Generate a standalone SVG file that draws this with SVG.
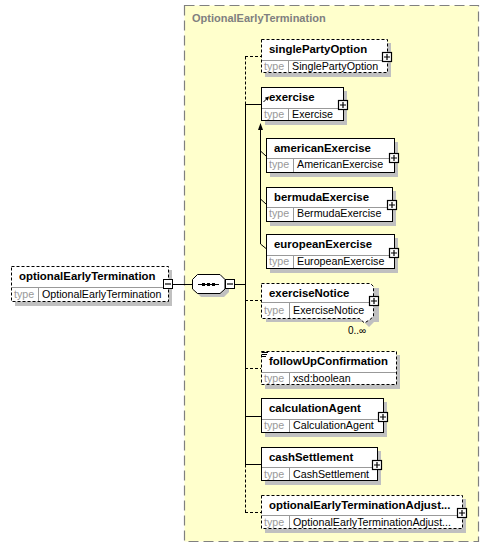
<svg xmlns="http://www.w3.org/2000/svg" xmlns:xlink="http://www.w3.org/1999/xlink" width="490" height="551" viewBox="0 0 490 551">
<style>
.bg{fill:#ffffcc;stroke:#808080;stroke-width:1.2;stroke-dasharray:10,5}
.title{font:bold 11px "Liberation Sans",Arial,sans-serif;fill:#808080}
.box{fill:#fff;stroke:#000;stroke-width:1}
.opt{stroke-dasharray:3,2}
.sh{fill:#c0c0c0}
.div{stroke:#999;stroke-width:1;fill:none}
.nm{font:bold 11.4px "Liberation Sans",Arial,sans-serif;fill:#000}
.tl{font:10.7px "Liberation Sans",Arial,sans-serif;fill:#999}
.tv{font:10.7px "Liberation Sans",Arial,sans-serif;fill:#000}
.ln{stroke:#000;stroke-width:1;fill:none}
.dl{stroke:#000;stroke-width:1;fill:none;stroke-dasharray:3,2}
.occ{font:10px "Liberation Sans",Arial,sans-serif;fill:#000}
</style>
<defs>
<g id="plus"><rect x="0.5" y="0.5" width="9" height="9" fill="#fff" stroke="#000" stroke-width="1.2"/><path d="M2,5H8M5,2V8" stroke="#000" stroke-width="1.2"/></g>
<g id="minus"><rect x="0.5" y="0.5" width="9" height="9" fill="#fff" stroke="#000" stroke-width="1"/><path d="M2,5H8" stroke="#000" stroke-width="1.2"/></g>
</defs>
<g id="complexType">
<rect class="bg" x="184.5" y="5.5" width="294" height="536"/>
<text class="title" x="192" y="22">OptionalEarlyTermination</text>
</g>
<g id="connectors">
<path class="ln" d="M173,284.5H192M234,284.5H245"/>
<path class="dl" d="M245.5,56.5V104.5M245.5,464.5V512.5"/>
<path class="ln" d="M245.5,104.5V464.5"/>
<path class="dl" d="M245,56.5H261M245,300.5H261M245,368.5H261M245,512.5H261"/>
<path class="ln" d="M245,104.5H261M245,416.5H261M245,464.5H261"/>
<path class="ln" d="M260.5,129V244M260.5,151L266,156M260.5,199L266,204M260.5,244L266,248.5"/>
<path d="M260.5,123L258,130H263Z" fill="#000"/>
</g>
<g id="sequence">
<path class="sh" d="M201,278H224L229,283V292L224,297H201L196,292V283Z"/>
<path class="box" d="M197.5,274.5H220L225,279.5V289L220,293.5H197.5L192.5,289V279.5Z"/>
<path class="ln" d="M198,284.5H219"/>
<rect x="202" y="283" width="3" height="3" fill="#000"/>
<rect x="207" y="283" width="3" height="3" fill="#000"/>
<rect x="212" y="283" width="3" height="3" fill="#000"/>
<use href="#minus" x="225" y="279"/>
</g>
<g id="optionalEarlyTermination">
<rect class="sh" x="15" y="270" width="157" height="36"/>
<rect class="box opt" x="11.5" y="266.5" width="157" height="35"/>
<path class="div" d="M12,287.5H168M38.5,288V301"/>
<text class="nm" x="19" y="280">optionalEarlyTermination</text>
<text class="tl" x="14" y="298">type</text>
<text class="tv" x="42" y="298">OptionalEarlyTermination</text>
<use href="#minus" x="163" y="279"/>
</g>
<g id="singlePartyOption">
<rect class="sh" x="265" y="43" width="126" height="34"/>
<rect class="box opt" x="261.5" y="39.5" width="126" height="33"/>
<path class="div" d="M262,60.5H387M288.5,61V72"/>
<text class="nm" x="269" y="52.5">singlePartyOption</text>
<text class="tl" x="264" y="70">type</text>
<text class="tv" x="292" y="70">SinglePartyOption</text>
<use href="#plus" x="382" y="52"/>
</g>
<g id="exercise">
<rect class="sh" x="265" y="91" width="82" height="34"/>
<rect class="box" x="261.5" y="87.5" width="82" height="33"/>
<path class="div" d="M262,108.5H343M288.5,109V120"/>
<text class="nm" x="269" y="100.5">exercise</text>
<text class="tl" x="264" y="118">type</text>
<text class="tv" x="292" y="118">Exercise</text>
<path class="ln" d="M263.5,102L267.5,98"/>
<path d="M269,96.5L264.8,97.8L267.7,100.7Z" fill="#000"/>
<use href="#plus" x="338" y="100"/>
</g>
<g id="americanExercise">
<rect class="sh" x="270" y="142" width="128" height="35"/>
<rect class="box" x="266.5" y="138.5" width="128" height="34"/>
<path class="div" d="M267,158.5H394M293.5,159V172"/>
<text class="nm" x="274" y="151.5">americanExercise</text>
<text class="tl" x="269" y="168">type</text>
<text class="tv" x="297" y="168">AmericanExercise</text>
<use href="#plus" x="389" y="153"/>
</g>
<g id="bermudaExercise">
<rect class="sh" x="270" y="191" width="126" height="35"/>
<rect class="box" x="266.5" y="187.5" width="126" height="34"/>
<path class="div" d="M267,207.5H392M293.5,208V221"/>
<text class="nm" x="274" y="200.5">bermudaExercise</text>
<text class="tl" x="269" y="217">type</text>
<text class="tv" x="297" y="217">BermudaExercise</text>
<use href="#plus" x="387" y="200"/>
</g>
<g id="europeanExercise">
<rect class="sh" x="270" y="238" width="128" height="35"/>
<rect class="box" x="266.5" y="234.5" width="128" height="34"/>
<path class="div" d="M267,255.5H394M293.5,256V268"/>
<text class="nm" x="274" y="247.5">europeanExercise</text>
<text class="tl" x="269" y="265">type</text>
<text class="tv" x="297" y="265">EuropeanExercise</text>
<use href="#plus" x="389" y="248"/>
</g>
<g id="exerciseNotice">
<path class="sh" d="M266,288H379V322H374L369,327L364,322H266Z"/>
<path class="box opt" d="M261.5,283.5H370.5L373.5,286.5V316.5L370,319.5L364.5,323L359.5,318.5H261.5Z"/>
<path class="div" d="M262,302.5H373M289.5,303V318"/>
<text class="nm" x="269" y="296.5">exerciseNotice</text>
<text class="tl" x="264" y="314">type</text>
<text class="tv" x="293" y="314">ExerciseNotice</text>
<use href="#plus" x="369" y="296"/>
<text class="occ" x="348" y="334">0..∞</text>
</g>
<g id="followUpConfirmation">
<rect class="sh" x="265" y="355" width="135" height="34"/>
<rect class="box opt" x="261.5" y="351.5" width="135" height="33"/>
<path class="div" d="M262,372.5H396M289.5,373V384"/>
<path class="ln" d="M262,352.5H268M262,354.5H267M262,356.5H266"/>
<text class="nm" x="269" y="364.5">followUpConfirmation</text>
<text class="tl" x="264" y="382">type</text>
<text class="tv" x="293" y="382">xsd:boolean</text>
</g>
<g id="calculationAgent">
<rect class="sh" x="265" y="402" width="122" height="35"/>
<rect class="box" x="261.5" y="398.5" width="122" height="34"/>
<path class="div" d="M262,419.5H383M289.5,420V432"/>
<text class="nm" x="269" y="411.5">calculationAgent</text>
<text class="tl" x="264" y="429">type</text>
<text class="tv" x="293" y="429">CalculationAgent</text>
<use href="#plus" x="378" y="412"/>
</g>
<g id="cashSettlement">
<rect class="sh" x="265" y="451" width="116" height="34"/>
<rect class="box" x="261.5" y="447.5" width="116" height="33"/>
<path class="div" d="M262,467.5H377M289.5,468V480"/>
<text class="nm" x="269" y="460.5">cashSettlement</text>
<text class="tl" x="264" y="478">type</text>
<text class="tv" x="293" y="478">CashSettlement</text>
<use href="#plus" x="372" y="460"/>
</g>
<g id="optionalEarlyTerminationAdjustedDates">
<rect class="sh" x="265" y="499" width="201" height="34"/>
<rect class="box opt" x="261.5" y="495.5" width="201" height="33"/>
<path class="div" d="M262,515.5H462M289.5,516V528"/>
<text class="nm" x="269" y="508.5">optionalEarlyTerminationAdjust...</text>
<text class="tl" x="264" y="526">type</text>
<text class="tv" x="293" y="526">OptionalEarlyTerminationAdjust...</text>
<use href="#plus" x="457" y="508"/>
</g>
</svg>
